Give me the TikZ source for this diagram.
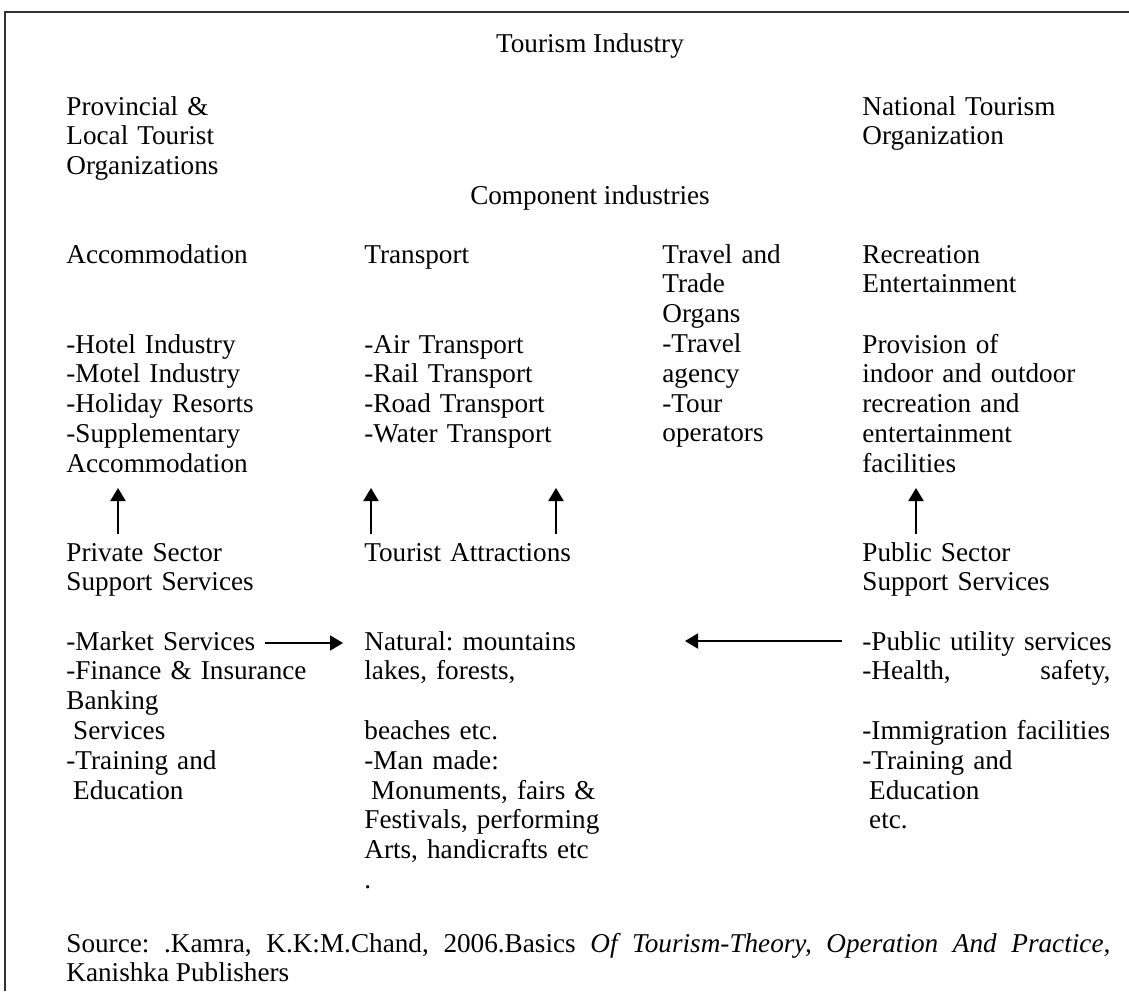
\documentclass[tikz,border=0pt]{standalone}
\usepackage{fontspec}
\setmainfont{Liberation Serif}
\usepackage{tikz}
\usetikzlibrary{arrows.meta, calc}
\frenchspacing
\tikzstyle{txt} = [anchor=base west, inner sep=0pt, text width=130pt, align=left]
\tikzstyle{head} = [anchor=base, inner sep=0pt]
\tikzstyle{arrow} = [line width=1pt, -{Triangle[length=6.5pt, width=7.5pt]}]

\begin{document}
\begin{tikzpicture}[x=0.5pt, y=-0.5pt, font=\fontsize{13.6pt}{14.9pt}\selectfont]
	\useasboundingbox (0,0) rectangle (1129,991);
	\draw [line width=0.9pt, black!80] (5,991) -- (5,12) -- (1129,12);
	% top part
	\node (Title) [head] at (590,52) {Tourism Industry};
	\node (Provincial) [txt] at (66,115) {Provincial \&\\Local Tourist\\Organizations};
	\node (National) [txt] at (862,115) {National Tourism\\Organization};
	\node (Component) [head] at (590,204) {Component industries};
	% component industries
	\node (Accommodation) [txt] at (66,263) {Accommodation};
	\node (Transport) [txt] at (364,263) {Transport};
	\node (Travel) [txt] at (662,263) {Travel and\\Trade\\Organs\\-Travel\\agency\\-Tour\\operators};
	\node (Recreation) [txt] at (862,263) {Recreation\\Entertainment};
	\node (Hotel) [txt] at (66,353) {-Hotel Industry\\-Motel Industry\\-Holiday Resorts\\-Supplementary\\Accommodation};
	\node (Air) [txt] at (364,353) {-Air Transport\\-Rail Transport\\-Road Transport\\-Water Transport};
	\node (Provision) [txt] at (862,353) {Provision of\\indoor and outdoor\\recreation and\\entertainment\\facilities};
	% support services
	\node (Private) [txt] at (66,561) {Private Sector\\Support Services};
	\node (Attractions) [txt] at (364,561) {Tourist Attractions};
	\node (Public) [txt] at (862,561) {Public Sector\\Support Services};
	\node (Market) [txt] at (66,650) {-Market Services\\-Finance \& Insurance\\Banking\\\hspace*{3.4pt}Services\\-Training and\\\hspace*{3.4pt}Education};
	\node (Natural) [txt] at (364,650) {Natural: mountains\\lakes, forests,\\~\\beaches etc.\\-Man made:\\\hspace*{3.4pt}Monuments, fairs \&\\Festivals, performing\\Arts, handicrafts etc\\.};
	\node (Utility) [txt] at (862,650) {-Public utility services\\\makebox[124pt][l]{-Health,\hfill safety,}\\~\\-Immigration facilities\\-Training and\\\hspace*{3.4pt}Education\\\hspace*{3.4pt}etc.};
	\node (Source) [txt, text width=522pt, align=justify] at (66,952) {\hyphenpenalty=10000 Source: .Kamra, K.K:M.Chand, 2006.Basics \textit{Of Tourism-Theory, Operation And Practice,}\linebreak Kanishka Publishers};
	% arrows
	\draw [arrow] ([shift={(26pt,13.5pt)}]Private.base west) -- ([shift={(26pt,36.5pt)}]Private.base west);
	\draw [arrow] ([shift={(3.5pt,13.5pt)}]Attractions.base west) -- ([shift={(3.5pt,36.5pt)}]Attractions.base west);
	\draw [arrow] ([shift={(96pt,13.5pt)}]Attractions.base west) -- ([shift={(96pt,36.5pt)}]Attractions.base west);
	\draw [arrow] ([shift={(27pt,13.5pt)}]Public.base west) -- ([shift={(27pt,36.5pt)}]Public.base west);
	\draw [arrow] ([shift={(99.5pt,3.5pt)}]Market.base west) -- ([shift={(-10.5pt,3.5pt)}]Natural.base west);
	\draw [arrow] ([shift={(-10pt,4.5pt)}]Utility.base west) -- ([shift={(160.5pt,4.5pt)}]Natural.base west);
\end{tikzpicture}
\end{document}
